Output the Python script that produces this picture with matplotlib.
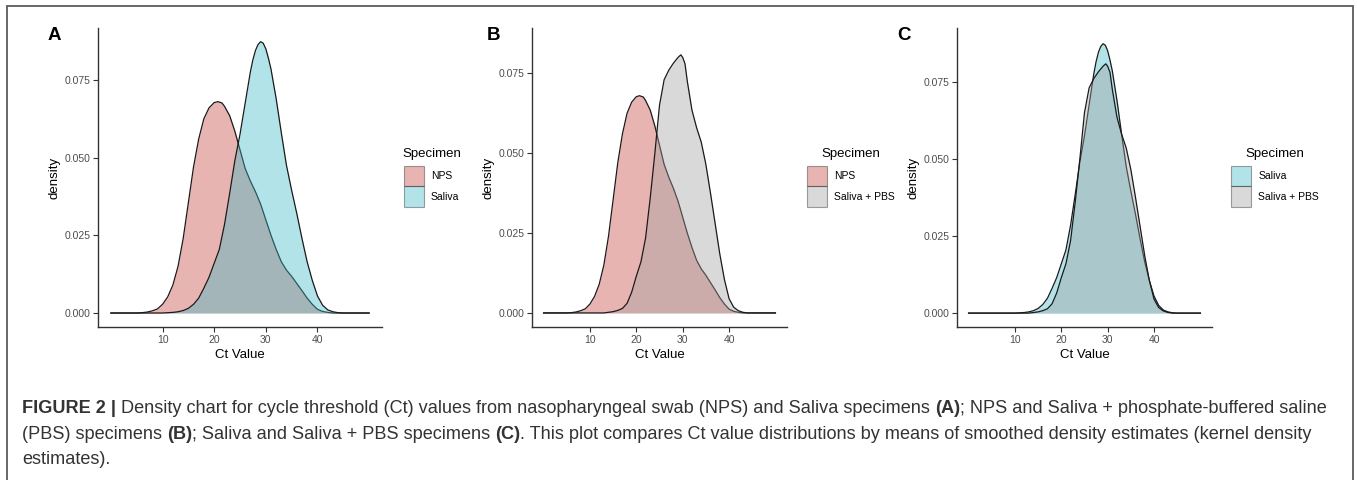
import matplotlib.pyplot as plt
from matplotlib import font_manager
from matplotlib.patches import Patch, Rectangle
from matplotlib.text import Annotation

W, H = 1357, 480

# Ct value grid and density readings for each specimen type
nps_x = [0, 5, 6, 7, 8, 9, 10, 11, 12, 13, 14, 15, 16, 17, 18, 19, 20, 20.7,
         21.5, 22, 23, 24, 25, 26, 27, 28, 29, 30, 31, 32, 33, 34, 35, 36, 37,
         38, 39, 40, 41, 42, 43, 50]
nps_y = [0, 0.0000, 0.0001, 0.0003, 0.0007, 0.0013, 0.0028, 0.0052, 0.0090,
         0.0150, 0.0240, 0.0355, 0.0470, 0.0560, 0.0625, 0.0660, 0.0677, 0.0680,
         0.0676, 0.0665, 0.0635, 0.0585, 0.0525, 0.0465, 0.0425, 0.0390, 0.0350,
         0.0300, 0.0250, 0.0205, 0.0165, 0.0138, 0.0118, 0.0095, 0.0072, 0.0048,
         0.0028, 0.0012, 0.0005, 0.0002, 0.0, 0]

saliva_x = [0, 10, 11, 12, 13, 14, 15, 16, 17, 18, 19, 20, 21, 22, 23, 24, 25,
            26, 27, 27.5, 28, 28.5, 29, 29.5, 30, 30.5, 31, 32, 33, 34, 35, 36,
            37, 38, 39, 40, 41, 42, 43, 44, 45, 50]
saliva_y = [0, 0, 0.0001, 0.0002, 0.0004, 0.0008, 0.0015, 0.0028, 0.0048,
            0.0080, 0.0115, 0.0160, 0.0205, 0.0285, 0.0385, 0.0490, 0.0575,
            0.0675, 0.0775, 0.0815, 0.0845, 0.0864, 0.0873, 0.0868, 0.0850,
            0.0820, 0.0785, 0.0690, 0.0580, 0.0475, 0.0395, 0.0320, 0.0240,
            0.0165, 0.0105, 0.0055, 0.0025, 0.0010, 0.0004, 0.0001, 0, 0]

pbs_x = [0, 13, 14, 15, 16, 17, 18, 19, 20, 21, 22, 23, 24, 25, 26, 27, 28, 29,
         29.6, 30, 30.5, 31, 32, 33, 34, 35, 36, 37, 38, 39, 40, 41, 42, 43, 44,
         50]
pbs_y = [0, 0, 0.0002, 0.0004, 0.0008, 0.0014, 0.0030, 0.0065, 0.0115, 0.0160,
         0.0235, 0.0360, 0.0500, 0.0650, 0.0730, 0.0760, 0.0782, 0.0800, 0.0808,
         0.0800, 0.0780, 0.0725, 0.0635, 0.0580, 0.0535, 0.0465, 0.0375, 0.0280,
         0.0185, 0.0105, 0.0045, 0.0018, 0.0007, 0.0002, 0, 0]

x_ticks = [10, 20, 30, 40]
y_ticks = [0.0, 0.025, 0.05, 0.075]
y_tick_labels = ["0.000", "0.025", "0.050", "0.075"]

SERIES = {
    "NPS": (nps_x, nps_y, "#C6443F"),
    "Saliva": (saliva_x, saliva_y, "#3CB9C6"),
    "Saliva + PBS": (pbs_x, pbs_y, "#A0A0A0"),
}
ALPHA = 0.4

# panel letter, groups, axes box in pixels (left, right, top, bottom), ylim, legend x, letter x
PANELS = [
    ("A", ["NPS", "Saliva"], (98, 382, 28, 327), (-0.0045, 0.0917), 402, 48),
    ("B", ["NPS", "Saliva + PBS"], (532, 787, 28, 327), (-0.0044, 0.0892), 807, 487),
    ("C", ["Saliva", "Saliva + PBS"], (957, 1212, 28, 327), (-0.0045, 0.0924), 1231, 897),
]

names = {f.name for f in font_manager.fontManager.ttflist}
base_font = "Liberation Sans" if "Liberation Sans" in names else "DejaVu Sans"
cap_font = "Liberation Sans Narrow" if "Liberation Sans Narrow" in names else base_font
cap_size = 14.5 if cap_font == "Liberation Sans Narrow" else 13.1

plt.rcParams["font.family"] = base_font

fig = plt.figure(figsize=(W / 100, H / 100), dpi=100, facecolor="white")

for letter, groups, (l, r, t, b), ylim, leg_x, lab_x in PANELS:
    ax = fig.add_axes([l / W, 1 - b / H, (r - l) / W, (b - t) / H])
    for z, g in enumerate(groups):
        xs, ys, col = SERIES[g]
        ax.fill_between(xs, ys, 0, color=col, alpha=ALPHA, lw=0, zorder=2 + z * 2)
        ax.plot(xs, ys, color="#1a1a1a", lw=0.9, zorder=3 + z * 2)
    ax.set_xlim(-2.5, 52.5)
    ax.set_ylim(*ylim)
    ax.set_xticks(x_ticks)
    ax.set_yticks(y_ticks)
    ax.set_yticklabels(y_tick_labels)
    ax.tick_params(labelsize=7.5, labelcolor="#4D4D4D", color="#333333",
                   length=3.5, width=0.8, pad=2)
    for s in ["top", "right"]:
        ax.spines[s].set_visible(False)
    for s in ["left", "bottom"]:
        ax.spines[s].set_color("#333333")
        ax.spines[s].set_linewidth(1.0)
    ax.set_xlabel("Ct Value", fontsize=9.5, labelpad=3)
    ax.set_ylabel("density", fontsize=9.5, labelpad=3)

    fig.text(lab_x / W, 1 - 35 / H, letter, fontsize=13.5, fontweight="bold",
             ha="left", va="center")

    handles = [Patch(facecolor=SERIES[g][2], alpha=ALPHA, edgecolor="#1a1a1a",
                     linewidth=0.8, label=g) for g in groups]
    leg = fig.legend(handles=handles, title="Specimen", loc="upper left",
                     bbox_to_anchor=(leg_x / W, 1 - 148 / H), frameon=False,
                     fontsize=7.5, title_fontsize=9.5, handlelength=1.9,
                     handleheight=2.6, labelspacing=0.0, handletextpad=0.7,
                     borderpad=0, borderaxespad=0)
    leg._legend_box.sep = 4.5  # gap between title and keys
    for h in leg.legend_handles:
        h.set_edgecolor("#1a1a1a")

# outer frame of the figure
fig.add_artist(Rectangle((7 / W, -0.1), (1353 - 7) / W, 1 - 6 / H + 0.1,
                         transform=fig.transFigure, fill=False,
                         edgecolor="#5a5a5a", lw=1.3))

caption = [
    [("FIGURE 2 | ", "bold"),
     ("Density chart for cycle threshold (Ct) values from nasopharyngeal swab "
      "(NPS) and Saliva specimens ", "normal"),
     ("(A)", "bold"), ("; NPS and Saliva + phosphate-buffered saline", "normal")],
    [("(PBS) specimens ", "normal"), ("(B)", "bold"),
     ("; Saliva and Saliva + PBS specimens ", "normal"), ("(C)", "bold"),
     (". This plot compares Ct value distributions by means of smoothed density "
      "estimates (kernel density", "normal")],
    [("estimates).", "normal")],
]
line_base = [413, 439, 464]

for pieces, yb in zip(caption, line_base):
    prev = None
    for text, weight in pieces:
        if prev is None:
            prev = fig.text(22 / W, 1 - yb / H, text, fontsize=cap_size,
                            family=cap_font, weight=weight, color="#333333",
                            ha="left", va="baseline")
        else:
            a = Annotation(text, xy=(1, 0), xycoords=prev, fontsize=cap_size,
                           family=cap_font, weight=weight, color="#333333",
                           ha="left", va="bottom")
            fig.add_artist(a)
            prev = a

fig.savefig("out.png", dpi=100, facecolor="white")
